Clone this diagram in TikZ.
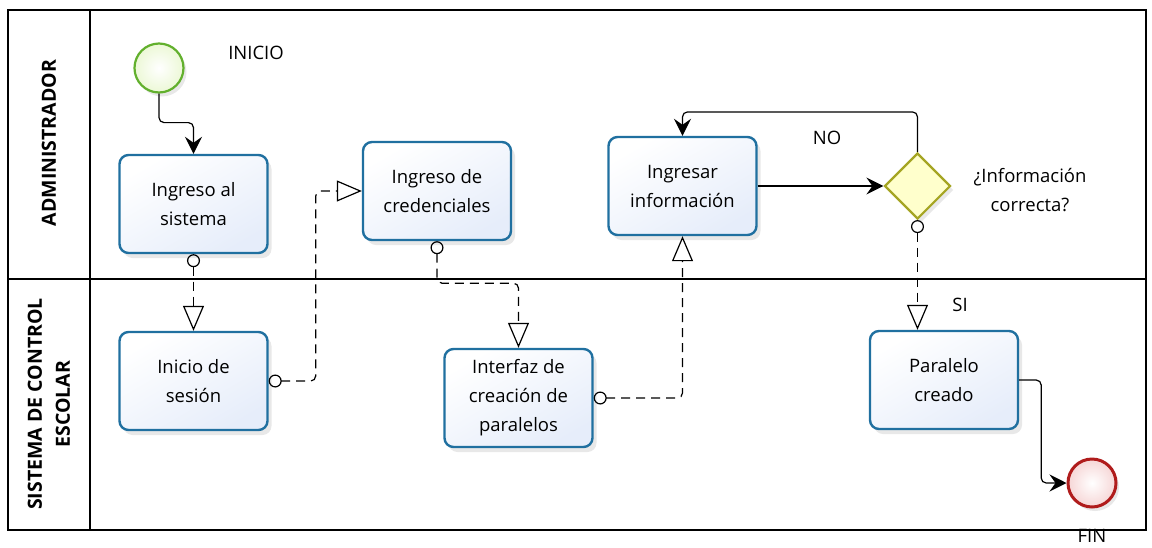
\documentclass[tikz,border=0pt]{standalone}
\usepackage{fontspec}
\setmainfont{Open Sans}
\usetikzlibrary{arrows.meta,shadows,shapes.geometric}

\definecolor{taskline}{RGB}{32,112,160}
\definecolor{taskfill}{RGB}{230,237,250}
\definecolor{startline}{RGB}{98,176,45}
\definecolor{startfill}{RGB}{236,248,214}
\definecolor{gwline}{RGB}{165,165,35}
\definecolor{gwfill}{RGB}{255,255,204}
\definecolor{endline}{RGB}{176,28,28}
\definecolor{endfill}{RGB}{246,214,214}

\tikzset{
  txt/.style={font=\fontsize{18.5}{29}\selectfont, align=center},
  task/.style={txt, draw=taskline, line width=2.4pt, rounded corners=9pt,
    top color=white, bottom color=taskfill, shading angle=30,
    minimum width=148pt, minimum height=98pt, inner sep=0pt,
    drop shadow={shadow xshift=4pt, shadow yshift=-5pt, opacity=.18, fill=gray}},
  seq/.style={line width=1.2pt, rounded corners=5pt, -{Stealth[length=17pt,width=17pt,inset=6pt]}},
  msg/.style={line width=1.2pt, dash pattern=on 9pt off 6pt, rounded corners=5pt,
    {Circle[open,length=13pt,width=13pt]}-{Triangle[open,length=25pt,width=21pt]}}
}

\begin{document}
\begin{tikzpicture}[x=1pt,y=-1pt]
  \useasboundingbox (0,0) rectangle (1152,547);

  % pool and lanes
  \draw[line width=1.2pt] (8,10) rectangle (1146,530);
  \draw[line width=1.2pt] (90,10) -- (90,530);
  \draw[line width=1.2pt] (8,279) -- (1146,279);
  \node[rotate=90, font=\fontsize{19.5}{28}\bfseries] (l1) at (49,143) {ADMINISTRADOR};
  \node[rotate=90, font=\fontsize{19.5}{28}\bfseries, align=center] (l2) at (49,404) {SISTEMA DE CONTROL\\ESCOLAR};

  % events and gateway
  \node[circle, draw=startline, line width=2.2pt, inner color=white, outer color=startfill, minimum size=49pt,
    drop shadow={shadow xshift=3pt, shadow yshift=-4pt, opacity=.18, fill=gray}] (ini) at (159,68) {};
  \node[circle, draw=endline, line width=3pt, inner color=white, outer color=endfill, minimum size=48pt,
    drop shadow={shadow xshift=3pt, shadow yshift=-4pt, opacity=.18, fill=gray}] (fin) at (1092,483) {};
  \node[diamond, draw=gwline, line width=2.2pt, fill=gwfill, minimum size=66pt, inner sep=0pt,
    drop shadow={shadow xshift=3pt, shadow yshift=-4pt, opacity=.18, fill=gray}] (gw) at (917.5,186) {};

  % tasks
  \begin{scope}[every node/.style={task}]
    \node (1) at (193.5,204) {Ingreso al\\sistema};
    \node (2) at (193.5,381) {Inicio de\\sesión};
    \node (3) at (437,191)   {Ingreso de\\credenciales};
    \node (4) at (518.5,398) {Interfaz de\\creación de\\paralelos};
    \node (5) at (682.5,186) {Ingresar\\información};
    \node (6) at (944,380)   {Paralelo\\creado};
  \end{scope}

  % labels
  \begin{scope}[every node/.style={txt}]
    \node (inicio) at (256,53)  {INICIO};
    \node (no)     at (827,138) {NO};
    \node (preg)   at (1030,190) {¿Información\\correcta?};
    \node (si)     at (960,305) {SI};
    \node (finlab) at (1092,536) {FIN};
  \end{scope}

  % sequence flows
  \draw[seq] (ini.south) -- ++(0,29) -| (1.north);
  \draw[seq] (5.east) -- (gw.west);
  \draw[seq] (gw.north) -- ++(0,-40) -| (5.north);
  \draw[seq] (6.east) -- ++(22,0) |- (fin.west);

  % message flows
  \draw[msg] (1.south) -- (2.north);
  \draw[msg] (2.east) -- ++(47,0) |- (3.west);
  \draw[msg] (3.south) -- ++(0,42) -| (4.north);
  \draw[msg] (4.east) -| (5.south);
  \draw[msg] (gw.south) -- (gw.south |- 6.north);

\end{tikzpicture}
\end{document}
